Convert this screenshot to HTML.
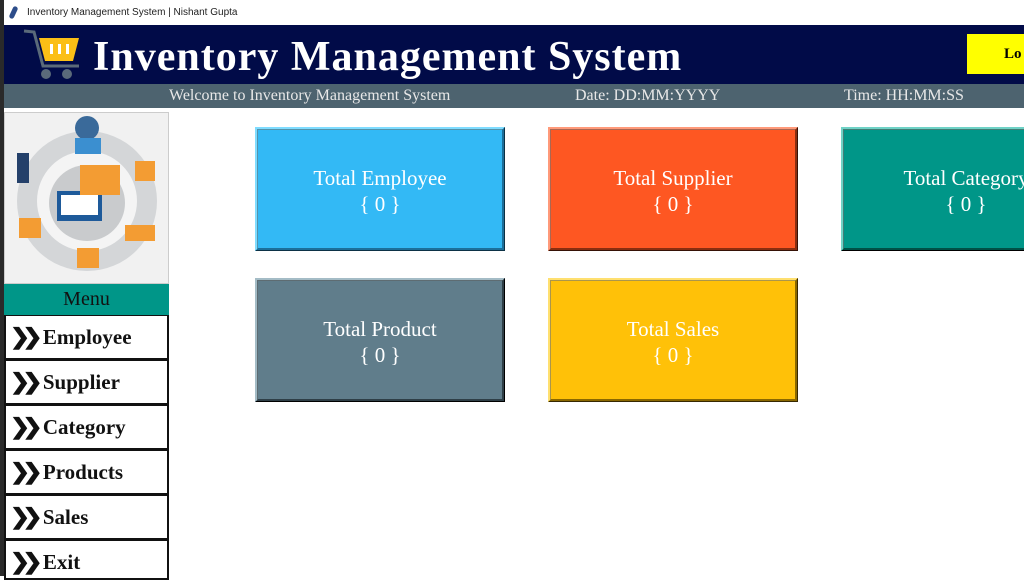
<!DOCTYPE html>
<html><head><meta charset="utf-8"><style>
*{margin:0;padding:0;box-sizing:border-box}
body{width:1024px;height:576px;overflow:hidden;background:#fff;position:relative;font-family:"Liberation Serif",serif}
.abs{position:absolute}
.title{left:0;top:0;width:1024px;height:25px;background:#fff;font-family:"Liberation Sans",sans-serif;font-size:10px;color:#222;line-height:25px;padding-left:27px}
.strip{left:0;top:0;width:4px;height:576px;background:#2a2a2a}
.head{left:4px;top:25px;width:1020px;height:59px;background:#010b48}
.head h1{position:absolute;left:89px;top:8px;color:#fff;font-size:42px;font-weight:bold;letter-spacing:1px;white-space:nowrap}
.logout{left:967px;top:34px;width:60px;height:40px;background:#ffff00;font-weight:bold;font-size:15px;line-height:40px;padding-left:37px}
.sub{left:4px;top:84px;width:1020px;height:24px;background:#4d636f;color:#e8e8e8;font-size:16px;line-height:24px}
.sub span{position:absolute;top:0}
.img{left:4px;top:112px;width:165px;height:172px;background:#f1f1f1;border:1px solid #ccc}
.menu{left:4px;top:284px;width:165px;height:31px;background:#009688;color:#111;font-size:20px;text-align:center;line-height:31px}
.btn{left:4px;width:165px;height:45px;background:#fff;border:2px solid #111;border-top:1px solid #111;font-weight:bold;font-size:21px;line-height:42px;padding-left:5px;color:#111}
.btn b{font-size:22px;letter-spacing:-7px;margin-right:9px;display:inline-block;transform:scaleX(1.1)}
.card{width:250px;height:124px;border:3px ridge;color:#fff;text-align:center;font-size:21px;line-height:26px;padding-top:35px}
</style></head><body>
<div class="abs title">Inventory Management System | Nishant Gupta</div>
<div class="abs" style="left:11px;top:6px;width:5px;height:13px;background:#2d4d8a;border-radius:3px;transform:rotate(25deg)"></div>
<div class="abs strip"></div>
<div class="abs head">
<svg style="position:absolute;left:17px;top:3px" width="60" height="52"><path d="M3 3 L13 4 L22 38 L58 38" stroke="#5a6a7a" stroke-width="3" fill="none"/><path d="M18 10 L58 10 L52 33 L24 33 Z" fill="#fbbf16"/><rect x="29" y="16" width="3" height="10" fill="#fff"/><rect x="37" y="16" width="3" height="10" fill="#fff"/><rect x="45" y="16" width="3" height="10" fill="#fff"/><circle cx="25" cy="46" r="5" fill="#5a6a7a"/><circle cx="46" cy="46" r="5" fill="#5a6a7a"/></svg>
<h1>Inventory Management System</h1></div>
<div class="abs logout">Lo</div>
<div class="abs sub"><span style="left:165px">Welcome to Inventory Management System</span><span style="left:571px">Date: DD:MM:YYYY</span><span style="left:840px">Time: HH:MM:SS</span></div>
<div class="abs img">
<svg width="163" height="170"><circle cx="82" cy="88" r="70" fill="#d4d6d8"/><circle cx="82" cy="88" r="50" fill="#f4f4f4"/><circle cx="82" cy="90" r="38" fill="#c9cbcd"/><rect x="52" y="78" width="45" height="30" fill="#1e5a9a"/><rect x="56" y="82" width="37" height="20" fill="#fff"/><rect x="75" y="52" width="40" height="30" fill="#f39c33"/><circle cx="82" cy="15" r="12" fill="#3a6a9a"/><rect x="70" y="25" width="26" height="16" fill="#3b8fd0"/><rect x="72" y="135" width="22" height="20" fill="#f39c33"/><rect x="120" y="112" width="30" height="16" fill="#f39c33"/><rect x="14" y="105" width="22" height="20" fill="#f39c33"/><rect x="12" y="40" width="12" height="30" fill="#24406a"/><rect x="130" y="48" width="20" height="20" fill="#f39c33"/></svg></div>
<div class="abs menu">Menu</div>
<div class="abs btn" style="top:315px"><b>❯❯</b>Employee</div>
<div class="abs btn" style="top:360px"><b>❯❯</b>Supplier</div>
<div class="abs btn" style="top:405px"><b>❯❯</b>Category</div>
<div class="abs btn" style="top:450px"><b>❯❯</b>Products</div>
<div class="abs btn" style="top:495px"><b>❯❯</b>Sales</div>
<div class="abs btn" style="top:540px;height:40px"><b>❯❯</b>Exit</div>
<div class="abs card" style="left:255px;top:127px;background:#33b9f5;border-color:#7fdcff #1c6f9a #1c6f9a #7fdcff">Total Employee<br>{ 0 }</div>
<div class="abs card" style="left:548px;top:127px;background:#fe5722;border-color:#ff9a7a #8a2e10 #8a2e10 #ff9a7a">Total Supplier<br>{ 0 }</div>
<div class="abs card" style="left:841px;top:127px;background:#009688;border-color:#6fd2c6 #005046 #005046 #6fd2c6">Total Category<br>{ 0 }</div>
<div class="abs card" style="left:255px;top:278px;background:#607d8b;border-color:#a4bcc6 #2f3f47 #2f3f47 #a4bcc6">Total Product<br>{ 0 }</div>
<div class="abs card" style="left:548px;top:278px;background:#ffc108;border-color:#ffe070 #8a6800 #8a6800 #ffe070">Total Sales<br>{ 0 }</div>
</body></html>
